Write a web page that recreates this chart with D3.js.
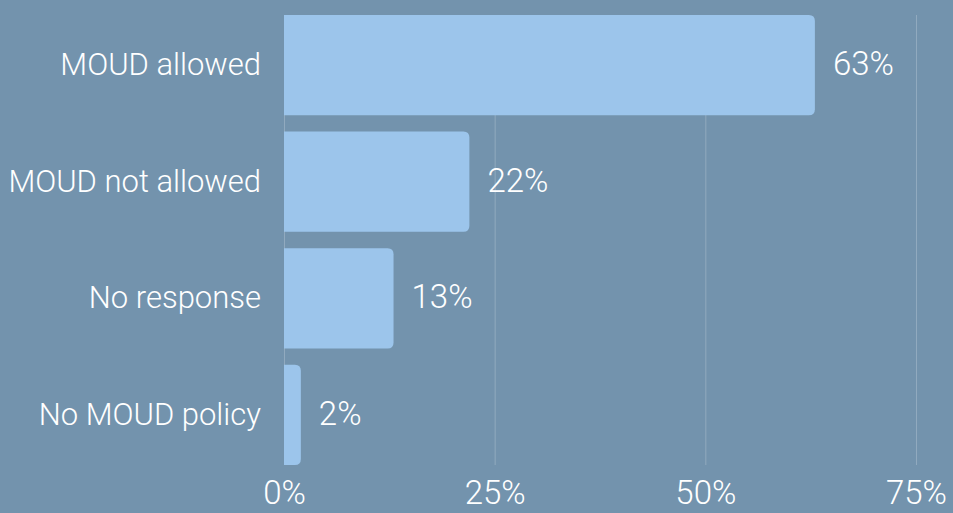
<!DOCTYPE html>
<html>
<head>
<meta charset="utf-8">
<script src="https://cdn.jsdelivr.net/npm/d3@7"></script>
<style>
  html, body { margin: 0; padding: 0; background: #7393ad; }
  svg { display: block; font-family: Roboto, sans-serif; font-weight: 300; }
</style>
</head>
<body>
<svg id="chart"></svg>
<script>
// chart values
const categories = ["MOUD allowed", "MOUD not allowed", "No response", "No MOUD policy"];
const shares = [63, 22, 13, 2];
const tickValues = [0, 25, 50, 75];

const width = 953, height = 513;
const margin = {top: 15, right: 37, bottom: 48, left: 284};

const svg = d3.select("#chart")
    .attr("width", width)
    .attr("height", height);

const x = d3.scaleLinear([0, 75], [margin.left, width - margin.right]);
const y = d3.scaleBand(categories, [margin.top, height - margin.bottom])
    .paddingInner(0.14)
    .paddingOuter(0);

const rows = categories.map((c, i) => ({name: c, value: shares[i]}));

// grid
svg.append("g")
    .selectAll("line")
    .data(tickValues)
    .join("line")
      .attr("x1", d => x(d) + 0.5)
      .attr("x2", d => x(d) + 0.5)
      .attr("y1", margin.top)
      .attr("y2", height - margin.bottom)
      .attr("stroke", "#ffffff")
      .attr("stroke-opacity", 0.22)
      .attr("stroke-width", 1);

// bars, rounded on the right only
const r = 6;
svg.append("g")
    .selectAll("path")
    .data(rows)
    .join("path")
      .attr("fill", "#9cc5eb")
      .attr("d", d => {
        const x0 = x(0), x1 = x(d.value), y0 = y(d.name), h = y.bandwidth();
        const rr = Math.min(r, (x1 - x0) / 2);
        return `M${x0},${y0}H${x1 - rr}Q${x1},${y0} ${x1},${y0 + rr}` +
               `V${y0 + h - rr}Q${x1},${y0 + h} ${x1 - rr},${y0 + h}H${x0}Z`;
      });

// value labels
svg.append("g")
    .attr("fill", "#ffffff")
    .attr("font-size", 33)
    .selectAll("text")
    .data(rows)
    .join("text")
      .attr("x", d => x(d.value) + 18)
      .attr("y", d => y(d.name) + y.bandwidth() / 2)
      .attr("dy", "0.3em")
      .text(d => d.value + "%");

// category axis
const yAxis = g => g
    .attr("transform", `translate(${margin.left - 23},0)`)
    .call(d3.axisLeft(y).tickSize(0).tickPadding(0))
    .call(g => g.select(".domain").remove())
    .call(g => g.selectAll("text")
        .attr("fill", "#ffffff")
        .attr("font-size", 31)
        .attr("font-family", "Roboto, sans-serif")
        .attr("font-weight", 300));

// percent axis
const xAxis = g => g
    .attr("transform", `translate(0,${height - margin.bottom})`)
    .call(d3.axisBottom(x).tickValues(tickValues).tickFormat(d => d + "%").tickSize(0).tickPadding(16))
    .call(g => g.select(".domain").remove())
    .call(g => g.selectAll("text")
        .attr("fill", "#ffffff")
        .attr("font-size", 33)
        .attr("font-family", "Roboto, sans-serif")
        .attr("font-weight", 300)
        .attr("dy", "0.71em"));

svg.append("g").call(yAxis);
svg.append("g").call(xAxis);
</script>
</body>
</html>
